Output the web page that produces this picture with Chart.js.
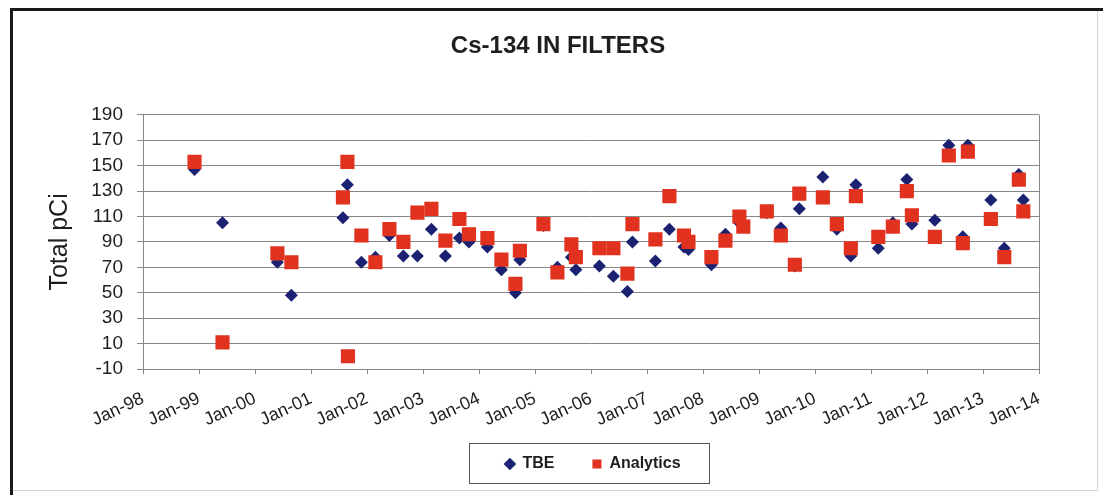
<!DOCTYPE html>
<html>
<head>
<meta charset="utf-8">
<script src="https://cdn.jsdelivr.net/npm/chart.js@4/dist/chart.umd.min.js"></script>
<style>
  html, body { margin: 0; padding: 0; background: #fff; }
  #wrap { width: 1103px; height: 495px; }
</style>
</head>
<body>
<div id="wrap"><canvas id="chart-cs134" width="1103" height="495"></canvas></div>
<script>
// Date dei campioni (anno decimale) e valori
const sampleDates = [
  1998.92, 1999.42, 2000.40, 2000.65, 2001.57, 2001.65, 2001.66, 2001.90, 2002.15, 2002.40,
  2002.65, 2002.90, 2003.15, 2003.40, 2003.65, 2003.82, 2004.15, 2004.40, 2004.65, 2004.73,
  2005.15, 2005.40, 2005.65, 2005.73, 2006.15, 2006.40, 2006.65, 2006.74, 2007.15, 2007.40,
  2007.66, 2007.74, 2008.15, 2008.40, 2008.65, 2008.72, 2009.14, 2009.39, 2009.64, 2009.72,
  2010.14, 2010.39, 2010.64, 2010.73, 2011.13, 2011.39, 2011.64, 2011.73, 2012.14, 2012.39,
  2012.64, 2012.73, 2013.14, 2013.38, 2013.64, 2013.72
];
const tbeValues = [
  147, 105, 74, 48, 109, 135, null, 74, 78, 95,
  79, 79, 100, 79, 93, 90, 86, 68, 50, 76,
  103, 70, 78, 68, 71, 63, 51, 90, 75, 100,
  86, 84, 72, 96, 105, null, 113, 101, 71, 116,
  141, 100, 79, 135, 85, 105, 139, 104, 107, 166,
  94, 166, 123, 85, 143, 123
];
const analyticsValues = [
  153, 11, 81, 74, 125, 153, 0, 95, 74, 100,
  90, 113, 116, 91, 108, 96, 93, 76, 57, 83,
  104, 66, 88, 78, 85, 85, 65, 104, 92, 126,
  95, 90, 78, 91, 110, 102, 114, 95, 72, 128,
  125, 104, 85, 126, 94, 102, 130, 111, 94, 158,
  89, 161, 108, 78, 139, 114
];
const yearTicks = [1998, 1999, 2000, 2001, 2002, 2003, 2004, 2005, 2006, 2007, 2008, 2009, 2010, 2011, 2012, 2013, 2014];

const navy = '#1c2272';
const red = '#e0321e';
const gridGray = '#878787';
const textColor = '#1e1e1e';
const fontFamily = 'Liberation Sans, Arial, sans-serif';

function toPoints(values) {
  const pts = [];
  for (let i = 0; i < sampleDates.length; i++) {
    if (values[i] !== null) pts.push({ x: sampleDates[i], y: values[i] });
  }
  return pts;
}

// cornice, bordo destro dell'area, riquadro legenda e spostamento titolo/legenda
const framePlugin = {
  id: 'frame',
  afterLayout(chart) {
    // in Excel titolo e legenda non sono centrati sull'area del grafico
    const t = chart.titleBlock;
    if (t) {
      const dx = 558 - (t.left + t.right) / 2;
      t.left += dx; t.right += dx;
    }
    const l = chart.legend;
    if (l) {
      const dx = 593 - (l.left + l.right) / 2;
      l.left += dx; l.right += dx;
    }
  },
  beforeDraw(chart) {
    const ctx = chart.ctx;
    ctx.save();
    ctx.fillStyle = '#fff';
    ctx.fillRect(0, 0, chart.width, chart.height);
    ctx.strokeStyle = '#d4d4d4';
    ctx.lineWidth = 1;
    ctx.beginPath();
    ctx.moveTo(1097.5, 9); ctx.lineTo(1097.5, 490.5); ctx.lineTo(11, 490.5);
    ctx.stroke();
    ctx.strokeStyle = '#1a1a1a';
    ctx.lineWidth = 3;
    ctx.beginPath();
    ctx.moveTo(11.5, 495); ctx.lineTo(11.5, 9.5); ctx.lineTo(1103, 9.5);
    ctx.stroke();
    ctx.restore();
  },
  beforeDatasetsDraw(chart) {
    const a = chart.chartArea;
    const ctx = chart.ctx;
    ctx.save();
    ctx.strokeStyle = gridGray;
    ctx.lineWidth = 1;
    ctx.beginPath();
    ctx.moveTo(Math.round(a.right) + 0.5, a.top);
    ctx.lineTo(Math.round(a.right) + 0.5, a.bottom);
    ctx.stroke();
    ctx.restore();
  },
  afterDraw(chart) {
    const boxes = chart.legend && chart.legend.legendHitBoxes;
    if (!boxes || !boxes.length) return;
    let minX = Infinity, maxX = -Infinity, minY = Infinity, maxY = -Infinity;
    boxes.forEach(b => {
      minX = Math.min(minX, b.left); maxX = Math.max(maxX, b.left + b.width);
      minY = Math.min(minY, b.top); maxY = Math.max(maxY, b.top + b.height);
    });
    const ctx = chart.ctx;
    ctx.save();
    ctx.strokeStyle = '#555';
    ctx.lineWidth = 1;
    ctx.strokeRect(Math.round(minX - 36) + 0.5, Math.round(minY - 13) + 0.5,
      Math.round(maxX - minX + 65), Math.round(maxY - minY + 24));
    ctx.restore();
  }
};

const ctx = document.getElementById('chart-cs134').getContext('2d');
new Chart(ctx, {
  type: 'scatter',
  data: {
    datasets: [
      {
        label: 'TBE',
        data: toPoints(tbeValues),
        pointStyle: 'rectRot',
        pointRadius: 6.5,
        pointHoverRadius: 6.5,
        backgroundColor: navy,
        borderColor: navy,
        borderWidth: 0,
        order: 1
      },
      {
        label: 'Analytics',
        data: toPoints(analyticsValues),
        pointStyle: 'rect',
        pointRadius: 10,
        pointHoverRadius: 10,
        backgroundColor: red,
        borderColor: red,
        borderWidth: 0,
        order: 0
      }
    ]
  },
  options: {
    responsive: false,
    devicePixelRatio: 1,
    animation: false,
    layout: { padding: { left: 34, right: 64, top: 10, bottom: 13 } },
    plugins: {
      tooltip: { enabled: false },
      title: {
        display: true,
        text: 'Cs-134 IN FILTERS',
        color: textColor,
        font: { family: fontFamily, size: 24, weight: 'bold' },
        padding: { top: 22, bottom: 54 }
      },
      legend: {
        position: 'bottom',
        labels: {
          usePointStyle: true,
          boxWidth: 9,
          boxHeight: 9,
          padding: 38,
          color: textColor,
          font: { family: fontFamily, size: 16, weight: 'bold' },
          sort: (a, b) => a.datasetIndex - b.datasetIndex
        }
      }
    },
    scales: {
      x: {
        type: 'linear',
        min: 1998,
        max: 2014,
        afterBuildTicks: (scale) => { scale.ticks = yearTicks.map(v => ({ value: v })); },
        afterFit: (scale) => {
          scale.height = 49;
          // le etichette ruotate scendono sotto il blocco dell'asse: niente ritaglio
          scale._computeLabelArea = () => null;
        },
        grid: { drawOnChartArea: false, drawTicks: true, tickLength: 5, color: gridGray },
        border: { color: gridGray },
        ticks: {
          autoSkip: false,
          maxRotation: 25,
          minRotation: 25,
          padding: 14,
          color: textColor,
          font: { family: fontFamily, size: 18 },
          callback: (v) => 'Jan-' + String(v % 100).padStart(2, '0')
        }
      },
      y: {
        min: -10,
        max: 190,
        afterFit: (scale) => { scale.width = 109; },
        grid: { color: gridGray, tickLength: 6 },
        border: { color: gridGray },
        ticks: {
          stepSize: 20,
          autoSkip: false,
          padding: 14,
          color: textColor,
          font: { family: fontFamily, size: 19 }
        },
        title: {
          display: true,
          text: 'Total pCi',
          color: textColor,
          padding: { top: 11, bottom: 0 },
          font: { family: fontFamily, size: 25 }
        }
      }
    }
  },
  plugins: [framePlugin]
});
</script>
</body>
</html>
